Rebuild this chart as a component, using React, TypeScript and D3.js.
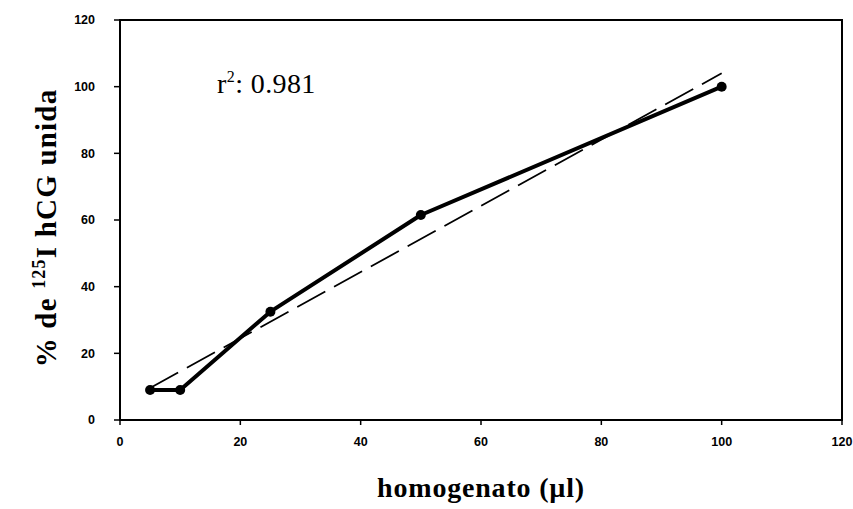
import React from 'react';
import * as d3 from 'd3';

// volumen de homogenato (µl) y % de 125I hCG unida
const volumes = [5, 10, 25, 50, 100];
const bound = [9, 9, 32.5, 61.5, 100];
// recta de regresión (extremos)
const fitX = [5, 100];
const fitY = [9.6, 104];
const xTicks = [0, 20, 40, 60, 80, 100, 120];
const yTicks = [0, 20, 40, 60, 80, 100, 120];
const rSquared = '0.981';

const width = 853;
const height = 509;
const margin = { top: 20, right: 11, bottom: 89, left: 120 };

export default function App() {
  const x = d3.scaleLinear().domain([0, 120]).range([margin.left, width - margin.right]);
  const y = d3.scaleLinear().domain([0, 120]).range([height - margin.bottom, margin.top]);

  const points = volumes.map((v, i) => [v, bound[i]] as [number, number]);
  const fit = fitX.map((v, i) => [v, fitY[i]] as [number, number]);
  const line = d3
    .line<[number, number]>()
    .x((d) => x(d[0]))
    .y((d) => y(d[1]));

  const x0 = x(0);
  const x1 = x(120);
  const y0 = y(0);
  const y1 = y(120);
  const tickFont = "'Liberation Sans', Arial, sans-serif";
  const titleFont = "'Liberation Serif', 'Times New Roman', serif";

  return (
    <svg width={width} height={height} style={{ display: 'block', position: 'absolute', left: 0, top: 0 }}>
      <rect x={0} y={0} width={width} height={height} fill="#fff" />
      {/* marco */}
      <rect x={x0} y={y1} width={x1 - x0} height={y0 - y1} fill="none" stroke="#000" strokeWidth={2} />
      {/* ticks eje y */}
      {yTicks.map((t) => (
        <g key={'y' + t}>
          <line x1={x0 - 6} x2={x0} y1={y(t)} y2={y(t)} stroke="#000" strokeWidth={1.5} />
          <text
            x={x0 - 25}
            y={y(t)}
            dy="0.35em"
            textAnchor="end"
            fontFamily={tickFont}
            fontWeight="bold"
            fontSize={12.5}
          >
            {t}
          </text>
        </g>
      ))}
      {/* ticks eje x */}
      {xTicks.map((t) => (
        <g key={'x' + t}>
          <line x1={x(t)} x2={x(t)} y1={y0} y2={y0 + 5} stroke="#000" strokeWidth={1.5} />
          <text
            x={x(t)}
            y={y0 + 22}
            dy="0.35em"
            textAnchor="middle"
            fontFamily={tickFont}
            fontWeight="bold"
            fontSize={12.5}
          >
            {t}
          </text>
        </g>
      ))}
      {/* recta de regresión */}
      <path d={line(fit) || ''} fill="none" stroke="#000" strokeWidth={1.8} strokeDasharray="32 10" />
      {/* datos */}
      <path d={line(points) || ''} fill="none" stroke="#000" strokeWidth={4} strokeLinejoin="round" />
      {points.map((p, i) => (
        <circle key={i} cx={x(p[0])} cy={y(p[1])} r={5} fill="#000" />
      ))}
      <text x={217} y={93} fontFamily={titleFont} fontSize={28} letterSpacing={0.4}>
        r<tspan dy={-11} fontSize={16}>2</tspan>
        <tspan dy={11}>: {rSquared}</tspan>
      </text>
      {/* títulos */}
      <text
        x={(x0 + x1) / 2}
        y={497}
        textAnchor="middle"
        fontFamily={titleFont}
        fontWeight="bold"
        fontSize={28}
        letterSpacing={0.8}
      >
        homogenato (µl)
      </text>
      <text
        transform={`translate(56, 228) rotate(-90)`}
        textAnchor="middle"
        fontFamily={titleFont}
        fontWeight="bold"
        fontSize={29}
        letterSpacing={1.2}
      >
        % de <tspan dy={-11} fontSize={18}>125</tspan>
        <tspan dy={11}>I hCG unida</tspan>
      </text>
    </svg>
  );
}
